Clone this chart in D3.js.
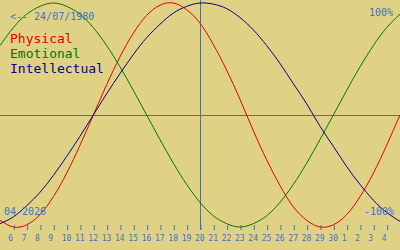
<!DOCTYPE html>
<html>
<head>
<meta charset="utf-8">
<script src="https://cdn.jsdelivr.net/npm/d3@7"></script>
<style>
  html, body { margin: 0; padding: 0; background: #e0d284; }
  svg { display: block; }
  text { font-family: "DejaVu Sans Mono", "Liberation Mono", monospace; }
</style>
</head>
<body>
<div id="chart"></div>
<script>
// Biorhythm for someone born 24/07/1980, window 05/04/2026 .. 05/05/2026, today = 20/04
const birthLabel = "<-- 24/07/1980";
const monthLabel = "04-2026";
const todayIndex = 15;

// day-of-month labels under ticks (index 1..29)
const dayLabels = [6, 7, 8, 9, 10, 11, 12, 13, 14, 15, 16, 17, 18, 19, 20, 21, 22, 23, 24, 25,
  26, 27, 28, 29, 30, 1, 2, 3, 4];

// cycle values in %, one per day from index 0 to 30
const physical = [-94, -100, -98, -89, -73, -52, -27, 0, 27, 52, 73, 89, 98, 100, 94, 82,
  63, 40, 14, -14, -40, -63, -82, -94, -100, -98, -89, -73, -52, -27, 0];
const emotional = [62, 78, 90, 97, 100, 97, 90, 78, 62, 43, 22, 0, -22, -43, -62, -78,
  -90, -97, -100, -97, -90, -78, -62, -43, -22, 0, 22, 43, 62, 78, 90];
const intellectual = [-97, -91, -81, -69, -54, -37, -19, 0, 19, 37, 54, 69, 81, 91, 97, 100,
  99, 95, 87, 76, 62, 46, 28, 10, -10, -28, -46, -62, -76, -87, -95];

const seriesNames = ["Physical", "Emotional", "Intellectual"];
const seriesColors = ["#e00000", "#007800", "#000090"];

const width = 400;
const height = 250;
const axisColor = "#3a74c4";

const x = d3.scaleLinear().domain([0, 30]).range([0, width]);
const y = d3.scaleLinear().domain([-100, 100]).range([227, 3]);

const svg = d3.select("#chart")
  .append("svg")
  .attr("width", width)
  .attr("height", height);

svg.append("rect")
  .attr("width", width)
  .attr("height", height)
  .attr("fill", "#e0d284");

// zero line
svg.append("line")
  .attr("x1", 0)
  .attr("x2", width)
  .attr("y1", y(0) + 0.5)
  .attr("y2", y(0) + 0.5)
  .attr("stroke", axisColor)
  .attr("stroke-width", 1);

// today marker
svg.append("line")
  .attr("x1", x(todayIndex) + 0.5)
  .attr("x2", x(todayIndex) + 0.5)
  .attr("y1", 0)
  .attr("y2", 230)
  .attr("stroke", axisColor)
  .attr("stroke-width", 1);

// day axis
const tickIdx = dayLabels.map((d, i) => i + 1);
const axis = svg.append("g")
  .attr("transform", "translate(0.5, 225)")
  .call(d3.axisBottom(x)
    .tickValues(tickIdx)
    .tickSize(5)
    .tickFormat((d) => dayLabels[d - 1]));
axis.select(".domain").remove();
axis.selectAll(".tick line").attr("stroke", axisColor);
axis.selectAll(".tick text")
  .attr("text-anchor", "start")
  .attr("x", -6)
  .attr("y", 16)
  .attr("dy", 0)
  .attr("fill", axisColor)
  .style("font-size", "8px")
  .style("font-family", "'DejaVu Sans Mono', monospace");

// curves
const line = d3.line()
  .x((d, i) => x(i))
  .y((d) => y(d))
  .curve(d3.curveNatural);

[physical, emotional, intellectual].forEach((vals, k) => {
  svg.append("path")
    .datum(vals)
    .attr("d", line)
    .attr("fill", "none")
    .attr("stroke", seriesColors[k])
    .attr("stroke-width", 1);
});

// legend
seriesNames.forEach((name, k) => {
  svg.append("text")
    .attr("x", 10)
    .attr("y", 43 + k * 15)
    .attr("fill", seriesColors[k])
    .style("font-size", "13px")
    .text(name);
});

// corner labels
const small = (tx, ty, anchor, label) =>
  svg.append("text")
    .attr("x", tx)
    .attr("y", ty)
    .attr("text-anchor", anchor)
    .attr("fill", axisColor)
    .style("font-size", "10px")
    .text(label);

small(10, 20, "start", birthLabel);
small(393, 16, "end", "100%");
small(394, 215, "end", "-100%");
small(4, 215, "start", monthLabel);
</script>
</body>
</html>
